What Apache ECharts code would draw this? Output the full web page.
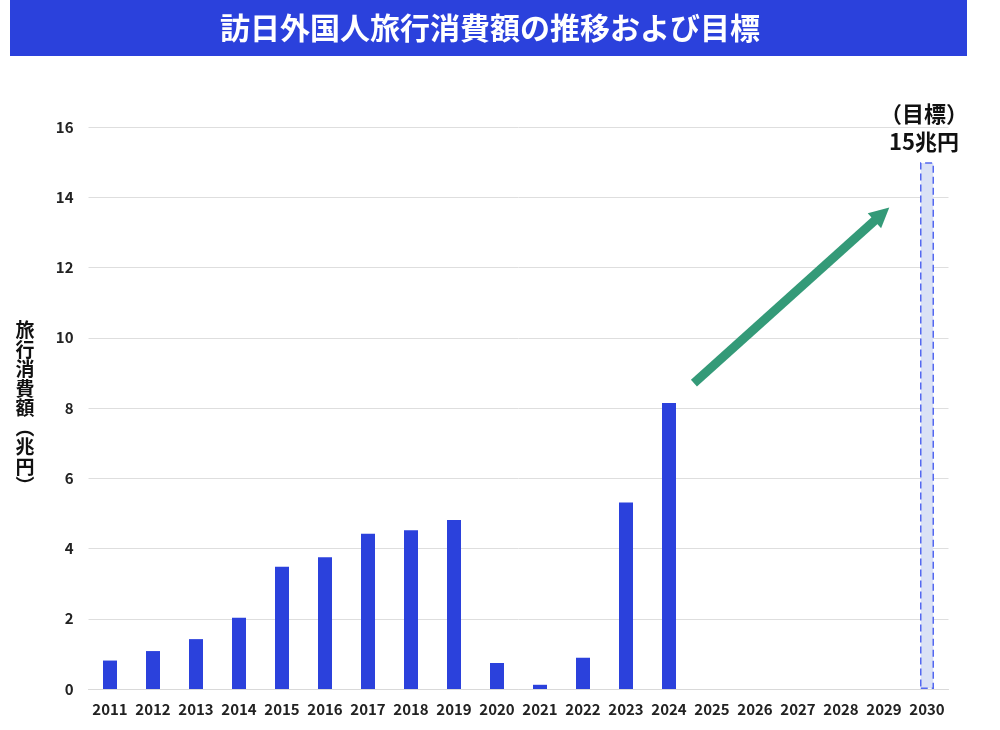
<!DOCTYPE html>
<html><head><meta charset="utf-8">
<script src="https://cdn.jsdelivr.net/npm/echarts@6/dist/echarts.min.js"></script>
<style>html,body{margin:0;padding:0;background:#fff}#c{width:1000px;height:730px}</style>
</head><body><div id="c"></div>
<script>
const years = ['2011','2012','2013','2014','2015','2016','2017','2018','2019','2020','2021','2022','2023','2024','2025','2026','2027','2028','2029','2030'];
const actual = [0.81,1.08,1.42,2.03,3.48,3.75,4.42,4.52,4.81,0.74,0.12,0.89,5.31,8.14,null,null,null,null,null,null];
const targetYear = '2030';
const targetValue = 15;
const yTicks = [0,2,4,6,8,10,12,14,16];
const arrowFrom = [13.58, 8.71];
const arrowTo = [17.95, 13.52];

const FONT = '"Noto Sans CJK JP", "Noto Sans", sans-serif';
const chart = echarts.init(document.getElementById('c'));
const barData = years.map((y, i) => {
  if (y === targetYear) {
    return {
      value: targetValue,
      itemStyle: {color: '#dbe2f6', borderColor: '#5468f0', borderType: [7, 4], borderWidth: 1.5},
      label: {show: true, position: 'top', distance: 6, formatter: '（目標）\n' + targetValue + '兆円',
        fontSize: 22, fontWeight: 'bold', color: '#111', lineHeight: 28, fontFamily: FONT, offset: [-3, 0]}
    };
  }
  return actual[i];
});
chart.setOption({
  animation: false,
  textStyle: {fontFamily: FONT},
  graphic: [
    {type: 'rect', shape: {x: 10, y: 0, width: 957, height: 56}, style: {fill: '#2b41dc'}, z: 0},
    {type: 'text', x: 490, y: 28, style: {text: '訪日外国人旅行消費額の推移および目標', fill: '#fff',
      font: 'bold 30px "Noto Sans CJK JP", sans-serif', textAlign: 'center', textVerticalAlign: 'middle'}, z: 1}
  ],
  grid: {left: 88.5, right: 51.5, top: 127, bottom: 41},
  xAxis: [{
    type: 'category', data: years,
    axisLine: {lineStyle: {color: '#d9d9d9', width: 1}},
    axisTick: {show: false},
    axisLabel: {color: '#222', fontSize: 15, fontWeight: 'bold', margin: 13, interval: 0}
  }, {
    type: 'value', min: -0.5, max: 19.5, show: false
  }],
  yAxis: {
    type: 'value', min: 0, max: 16, interval: 2,
    name: '旅\n行\n消\n費\n額\n︵\n兆\n円\n︶',
    nameLocation: 'middle', nameRotate: 0, nameGap: 54,
    nameTextStyle: {fontSize: 19, fontWeight: 'bold', color: '#111', lineHeight: 19.5},
    axisLine: {show: false}, axisTick: {show: false},
    axisLabel: {color: '#222', fontSize: 15, fontWeight: 'bold', margin: 15,
      formatter: v => yTicks.includes(v) ? String(v) : ''},
    splitLine: {lineStyle: {color: '#dedede', width: 1}}
  },
  series: [{
    type: 'bar', data: barData, barWidth: 14,
    itemStyle: {color: '#2b41dc'}
  }, {
    type: 'lines', coordinateSystem: 'cartesian2d', xAxisIndex: 1, yAxisIndex: 0,
    silent: true, symbol: ['none', 'triangle'], symbolSize: [22, 20],
    lineStyle: {color: '#349a78', width: 9, opacity: 1, cap: 'butt'},
    data: [{coords: [arrowFrom, arrowTo]}]
  }]
});
</script></body></html>
